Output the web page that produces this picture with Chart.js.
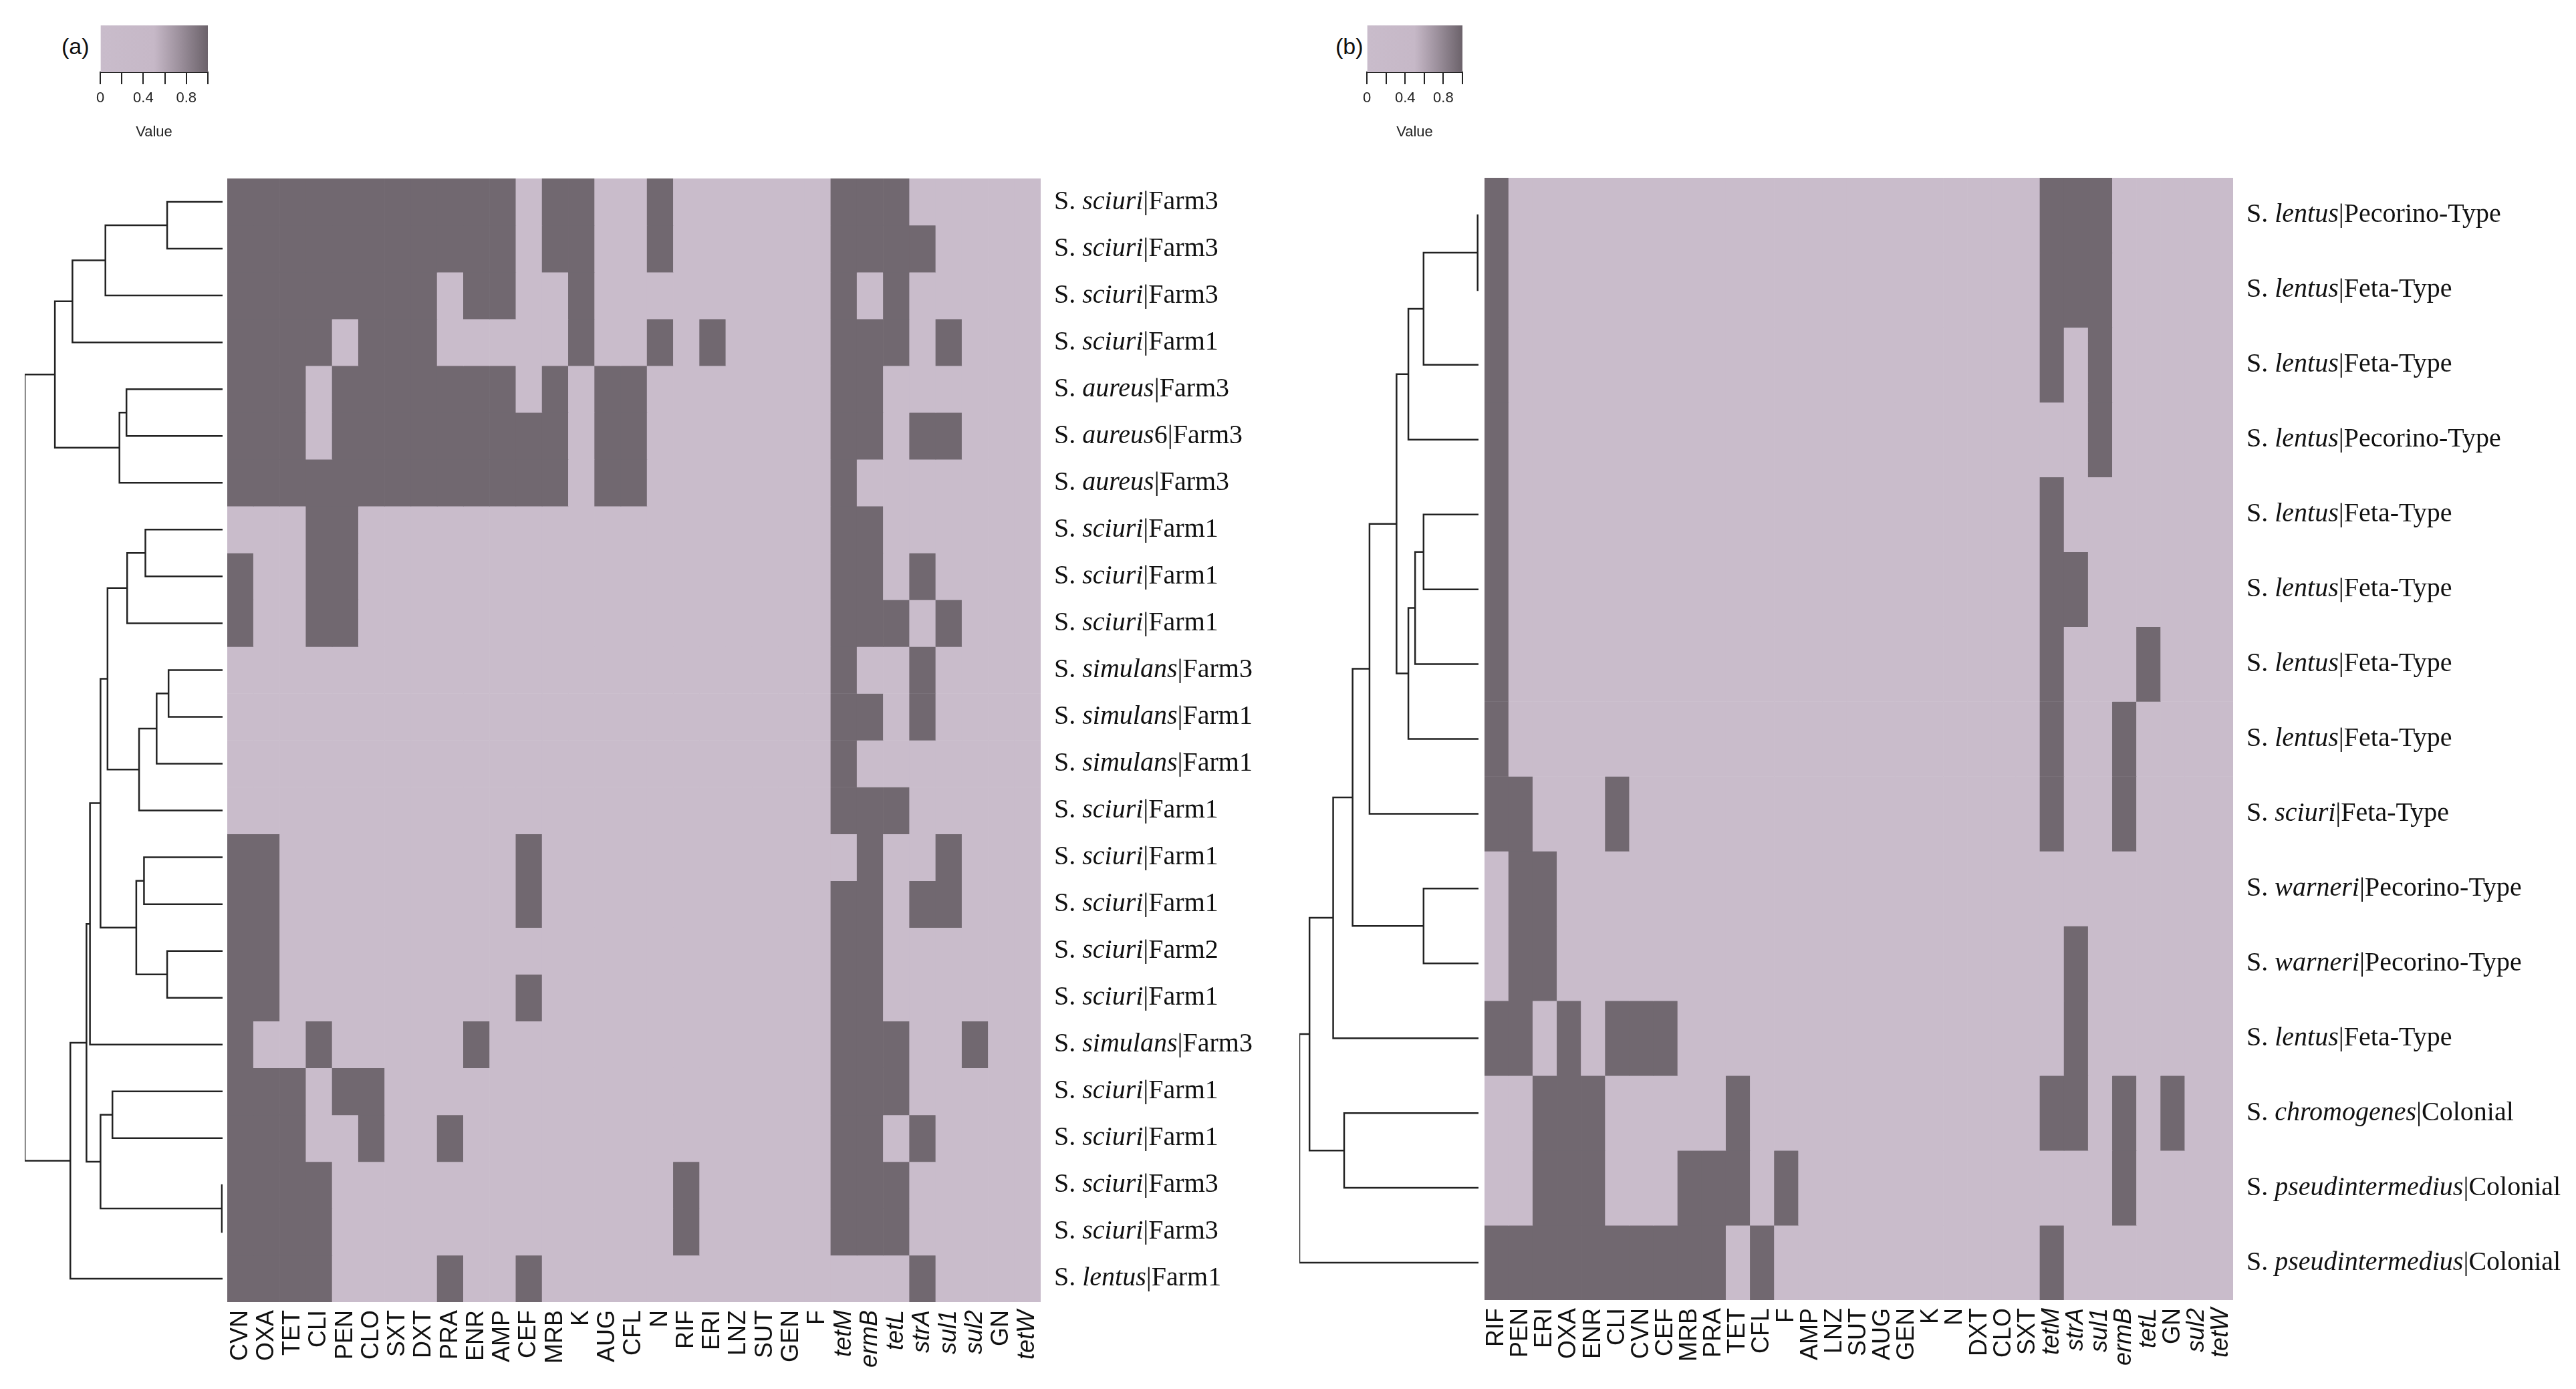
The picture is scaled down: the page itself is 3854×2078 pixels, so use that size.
<!DOCTYPE html>
<html>
<head>
<meta charset="utf-8">
<script src="https://cdn.jsdelivr.net/npm/chart.js@4.4.1/dist/chart.umd.min.js"></script>
<style>
  body { margin: 0; background: #fff; width: 3854px; height: 2078px; position: relative; overflow: hidden; }
  .box { position: absolute; }
  .tag { position: absolute; font-family: "Liberation Sans", Arial, sans-serif; font-size: 34px; color: #111; }
</style>
</head>
<body>
<div class="tag" style="left:92px;top:50px">(a)</div>
<div class="tag" style="left:1998px;top:50px">(b)</div>
<div class="box" style="left:130px;top:38px;width:200px;height:175px"><canvas id="legA"></canvas></div>
<div class="box" style="left:2025px;top:38px;width:182px;height:175px"><canvas id="legB"></canvas></div>
<div class="box" style="left:37px;top:267px;width:296px;height:1681px"><canvas id="dendA"></canvas></div>
<div class="box" style="left:340px;top:267px;width:1547px;height:1811px"><canvas id="heatA"></canvas></div>
<div class="box" style="left:1944px;top:266px;width:268px;height:1679px"><canvas id="dendB"></canvas></div>
<div class="box" style="left:2221px;top:266px;width:1620px;height:1812px"><canvas id="heatB"></canvas></div>
<script>
const DARK = "#716870";
const LIGHT = "#c9bccb";
const italicCols = ["tetM", "ermB", "tetL", "strA", "sul1", "sul2", "tetW"];

// ---- panel (a) ----
const colsA = ["CVN","OXA","TET","CLI","PEN","CLO","SXT","DXT","PRA","ENR","AMP","CEF","MRB","K","AUG","CFL","N","RIF","ERI","LNZ","SUT","GEN","F","tetM","ermB","tetL","strA","sul1","sul2","GN","tetW"];
const speciesA = ["S. sciuri","S. sciuri","S. sciuri","S. sciuri","S. aureus","S. aureus6","S. aureus","S. sciuri","S. sciuri","S. sciuri","S. simulans","S. simulans","S. simulans","S. sciuri","S. sciuri","S. sciuri","S. sciuri","S. sciuri","S. simulans","S. sciuri","S. sciuri","S. sciuri","S. sciuri","S. lentus"];
const sourceA = ["Farm3","Farm3","Farm3","Farm1","Farm3","Farm3","Farm3","Farm1","Farm1","Farm1","Farm3","Farm1","Farm1","Farm1","Farm1","Farm1","Farm2","Farm1","Farm3","Farm1","Farm1","Farm3","Farm3","Farm1"];
// column indices with value 1 (resistant / gene present), one list per row
const positiveA = [
  [0,1,2,3,4,5,6,7,8,9,10,12,13,16,23,24,25],
  [0,1,2,3,4,5,6,7,8,9,10,12,13,16,23,24,25,26],
  [0,1,2,3,4,5,6,7,9,10,13,23,25],
  [0,1,2,3,5,6,7,13,16,18,23,24,25,27],
  [0,1,2,4,5,6,7,8,9,10,12,14,15,23,24],
  [0,1,2,4,5,6,7,8,9,10,11,12,14,15,23,24,26,27],
  [0,1,2,3,4,5,6,7,8,9,10,11,12,14,15,23],
  [3,4,23,24],
  [0,3,4,23,24,26],
  [0,3,4,23,24,25,27],
  [23,26],
  [23,24,26],
  [23],
  [23,24,25],
  [0,1,11,24,27],
  [0,1,11,23,24,26,27],
  [0,1,23,24],
  [0,1,11,23,24],
  [0,3,9,23,24,25,28],
  [0,1,2,4,5,23,24,25],
  [0,1,2,5,8,23,24,26],
  [0,1,2,3,17,23,24,25],
  [0,1,2,3,17,23,24,25],
  [0,1,2,3,8,11,26]
];
// [child, child, height]; leaves 0..23, merged clusters numbered from 24
const mergesA = [
  [0,1,79],[24,2,167],[25,3,214],[4,5,137],[27,6,147],[26,28,239],
  [7,8,110],[30,9,136],[10,11,77],[32,12,94],[33,13,119],[31,34,164],
  [14,15,112],[16,17,79],[36,37,123],[35,38,174],[39,18,189],
  [19,20,157],[21,22,1],[41,42,174],[40,43,194],[44,23,217],[29,45,282]
];

// ---- panel (b) ----
const colsB = ["RIF","PEN","ERI","OXA","ENR","CLI","CVN","CEF","MRB","PRA","TET","CFL","F","AMP","LNZ","SUT","AUG","GEN","K","N","DXT","CLO","SXT","tetM","strA","sul1","ermB","tetL","GN","sul2","tetW"];
const speciesB = ["S. lentus","S. lentus","S. lentus","S. lentus","S. lentus","S. lentus","S. lentus","S. lentus","S. sciuri","S. warneri","S. warneri","S. lentus","S. chromogenes","S. pseudintermedius","S. pseudintermedius"];
const sourceB = ["Pecorino-Type","Feta-Type","Feta-Type","Pecorino-Type","Feta-Type","Feta-Type","Feta-Type","Feta-Type","Feta-Type","Pecorino-Type","Pecorino-Type","Feta-Type","Colonial","Colonial","Colonial"];
const positiveB = [
  [0,23,24,25],
  [0,23,24,25],
  [0,23,25],
  [0,25],
  [0,23],
  [0,23,24],
  [0,23,27],
  [0,23,26],
  [0,1,5,23,26],
  [1,2],
  [1,2,24],
  [0,1,3,5,6,7,24],
  [2,3,4,10,23,24,26,28],
  [2,3,4,8,9,10,12,26],
  [0,1,2,3,4,5,6,7,8,9,11,23]
];
const mergesB = [
  [0,1,1],[15,2,65],[16,3,83],[4,5,65],[18,6,75],[19,7,83],[17,20,97],
  [21,8,129],[9,10,65],[22,23,149],[24,11,172],[12,13,159],[25,26,200],[27,14,212]
];

const rowLabelPlugin = {
  id: "rowLabels",
  afterDraw(chart, args, opts) {
    const ctx = chart.ctx;
    const y = chart.scales.y;
    const x0 = chart.chartArea.right + opts.gap;
    ctx.save();
    ctx.fillStyle = "#111";
    ctx.textBaseline = "middle";
    ctx.textAlign = "left";
    opts.species.forEach((sp, i) => {
      const py = y.getPixelForValue(i + 0.5);
      const parts = sp.split(" ");
      // "S." is upright in the figure, the epithet italic
      ctx.font = opts.size + "px 'Liberation Serif', serif";
      const lead = parts[0] + " ";
      ctx.fillText(lead, x0, py);
      let x = x0 + ctx.measureText(lead).width;
      const rest = parts.slice(1).join(" ");
      const name = rest.replace(/\d+$/, "");
      const digits = rest.slice(name.length);
      ctx.font = "italic " + opts.size + "px 'Liberation Serif', serif";
      ctx.fillText(name, x, py);
      x += ctx.measureText(name).width;
      ctx.font = opts.size + "px 'Liberation Serif', serif";
      ctx.fillText(digits + "|" + opts.source[i], x, py);
    });
    ctx.restore();
  }
};

function heatmap(id, cols, positives, species, source, axisHeight, padRight) {
  const n = species.length;
  const datasets = positives.map((pos, i) => ({
    data: cols.map(() => [i, i + 1]),
    backgroundColor: cols.map((c, j) => pos.includes(j) ? DARK : LIGHT),
    borderWidth: 0,
    grouped: false,
    barPercentage: 1,
    categoryPercentage: 1
  }));
  return new Chart(document.getElementById(id), {
    type: "bar",
    data: { labels: cols, datasets },
    plugins: [rowLabelPlugin],
    options: {
      responsive: true,
      maintainAspectRatio: false,
      animation: false,
      layout: { padding: { left: 0, right: padRight, top: 0, bottom: 0 } },
      scales: {
        y: { type: "linear", min: 0, max: n, reverse: true, display: false },
        x: {
          grid: { display: false },
          border: { display: false },
          afterFit: (s) => { s.height = axisHeight; },
          ticks: {
            maxRotation: 90, minRotation: 90, autoSkip: false, padding: 4, color: "#111",
            font: (c) => ({
              family: "'Liberation Sans', Arial, sans-serif",
              size: 36,
              style: italicCols.includes(cols[c.index]) ? "italic" : "normal"
            })
          }
        }
      },
      plugins: {
        legend: { display: false },
        tooltip: { enabled: false },
        rowLabels: { species, source, gap: 20, size: 40 }
      }
    }
  });
}

function dendrogram(id, n, merges, maxH) {
  const nodes = [];
  for (let i = 0; i < n; i++) nodes.push({ y: i + 0.5, h: 0 });
  const datasets = [];
  merges.forEach(([a, b, h]) => {
    const A = nodes[a], B = nodes[b];
    datasets.push({
      data: [{ x: A.h, y: A.y }, { x: h, y: A.y }, { x: h, y: B.y }, { x: B.h, y: B.y }],
      showLine: true, borderColor: "#222", borderWidth: 2.5, pointRadius: 0, clip: false
    });
    nodes.push({ y: (A.y + B.y) / 2, h });
  });
  return new Chart(document.getElementById(id), {
    type: "scatter",
    data: { datasets },
    options: {
      responsive: true, maintainAspectRatio: false, animation: false,
      layout: { padding: 0 },
      scales: {
        x: { type: "linear", min: 0, max: maxH, reverse: true, display: false },
        y: { type: "linear", min: 0, max: n, reverse: true, display: false }
      },
      plugins: { legend: { display: false }, tooltip: { enabled: false } }
    }
  });
}

function colorKey(id) {
  return new Chart(document.getElementById(id), {
    type: "bar",
    data: {
      labels: [""],
      datasets: [{
        data: [[0, 1]],
        barPercentage: 1, categoryPercentage: 1, borderWidth: 0,
        backgroundColor: (c) => {
          const a = c.chart.chartArea;
          if (!a) return LIGHT;
          const g = c.chart.ctx.createLinearGradient(a.left, 0, a.right, 0);
          g.addColorStop(0, LIGHT);
          g.addColorStop(0.5, "#c6b8c7");
          g.addColorStop(0.75, "#9a8e9a");
          g.addColorStop(1, "#6b626a");
          return g;
        }
      }]
    },
    options: {
      indexAxis: "y",
      responsive: true, maintainAspectRatio: false, animation: false,
      layout: { padding: { left: 20, right: 19, top: 0, bottom: 0 } },
      scales: {
        y: { display: false },
        x: {
          type: "linear", min: 0, max: 1,
          afterFit: (s) => { s.height = 105; },
          grid: { drawOnChartArea: false, tickLength: 18, color: "#222", lineWidth: 2 },
          border: { display: true, color: "#222", width: 2 },
          ticks: {
            stepSize: 0.2, color: "#222", padding: 8, maxRotation: 0, minRotation: 0, autoSkip: false,
            font: { family: "'Liberation Sans', Arial, sans-serif", size: 22 },
            callback: (v) => [0, 0.4, 0.8].some((t) => Math.abs(t - v) < 1e-6) ? String(Math.round(v * 10) / 10) : ""
          },
          title: { display: true, text: "Value", color: "#222", padding: 2,
                   font: { family: "'Liberation Sans', Arial, sans-serif", size: 22 } }
        }
      },
      plugins: { legend: { display: false }, tooltip: { enabled: false } }
    }
  });
}

colorKey("legA");
colorKey("legB");
dendrogram("dendA", speciesA.length, mergesA, 282);
heatmap("heatA", colsA, positiveA, speciesA, sourceA, 130, 330);
dendrogram("dendB", speciesB.length, mergesB, 212);
heatmap("heatB", colsB, positiveB, speciesB, sourceB, 133, 500);
</script>
</body>
</html>
